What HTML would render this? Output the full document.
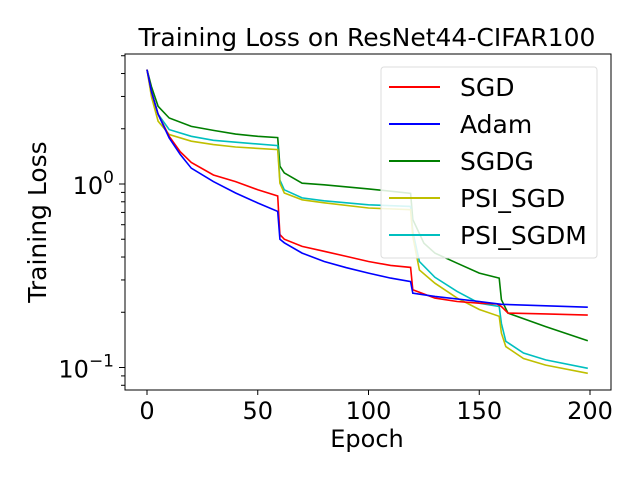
<!DOCTYPE html>
<html><head><meta charset="utf-8"><style>
body{margin:0;background:#fff;}
svg text{font-family:"DejaVu Sans","Liberation Sans",sans-serif;fill:#000;}
</style></head><body>
<svg id="chart" width="640" height="480" viewBox="0 0 640 480" xmlns="http://www.w3.org/2000/svg">
<rect x="0" y="0" width="640" height="480" fill="#fff"/>
<text x="367" y="46" font-size="25" text-anchor="middle">Training Loss on ResNet44-CIFAR100</text>
<g id="series"></g>
<rect x="125" y="54" width="486" height="336" fill="none" stroke="#000" stroke-width="1"/>
<g id="axes"></g>
<text x="367" y="447" font-size="24" text-anchor="middle">Epoch</text>
<text transform="translate(46,222) rotate(-90)" font-size="25" text-anchor="middle">Training Loss</text>
<g>
<rect x="381" y="67" width="216" height="191" rx="3" fill="#fff" fill-opacity="0.85" stroke="#ddd"/>
<g id="legend-items"></g>
</g>
</svg>
<script>
const names=["SGD","Adam","SGDG","PSI_SGD","PSI_SGDM"];
const colors=["#ff0000","#0000ff","#007f00","#bfbf00","#00bfbf"];
const sgdEpochs=[0,2,5,10,15,20,30,40,50,59,60,62,70,80,90,100,110,119,120,130,140,150,158,160,163,180,199];
const sgdVals=[4.2,3.2,2.4,1.82,1.5,1.31,1.12,1.03,0.93,0.86,0.53,0.5,0.457,0.43,0.403,0.378,0.36,0.351,0.265,0.239,0.229,0.224,0.222,0.215,0.198,0.196,0.193];
const adamEpochs=[0,2,5,10,15,20,30,40,50,59,60,62,70,80,90,100,110,119,120,130,150,160,199];
const adamVals=[4.2,3.2,2.4,1.78,1.45,1.22,1.03,0.893,0.788,0.709,0.5,0.478,0.42,0.378,0.35,0.327,0.307,0.294,0.254,0.244,0.229,0.221,0.213];
const sgdgEpochs=[0,2,5,10,20,30,40,50,59,60,62,70,80,100,119,120,125,130,140,150,159,160,163,180,199];
const sgdgVals=[4.2,3.4,2.65,2.29,2.06,1.96,1.87,1.82,1.79,1.25,1.15,1.01,0.99,0.94,0.89,0.64,0.476,0.42,0.37,0.327,0.307,0.234,0.198,0.167,0.14];
const psiSgdEpochs=[0,2,5,10,20,30,40,59,60,62,70,80,100,119,120,123,130,140,150,159,160,162,170,180,199];
const psiSgdVals=[4.2,3.0,2.2,1.86,1.71,1.64,1.59,1.54,1.01,0.893,0.82,0.79,0.74,0.724,0.518,0.34,0.288,0.239,0.207,0.19,0.154,0.13,0.112,0.103,0.093];
const psiSgdmEpochs=[0,2,5,10,20,30,40,59,60,62,70,80,100,119,120,123,130,140,150,159,160,162,170,180,199];
const psiSgdmVals=[4.2,3.1,2.4,1.98,1.82,1.73,1.69,1.62,1.05,0.93,0.84,0.81,0.77,0.755,0.55,0.378,0.31,0.26,0.224,0.215,0.174,0.139,0.12,0.11,0.099];
const xTicks=[0,50,100,150,200];
const NS="http://www.w3.org/2000/svg";
function xs(e){return 147+e*(590-147)/200;}
function ys(v){return 184-183.5*Math.log10(v);}
const epochSets=[sgdEpochs,adamEpochs,sgdgEpochs,psiSgdEpochs,psiSgdmEpochs];
const valSets=[sgdVals,adamVals,sgdgVals,psiSgdVals,psiSgdmVals];
const sg=document.getElementById('series');
const order=[2,4,3,0,1];
order.forEach(i=>{
  const p=document.createElementNS(NS,'polyline');
  
  
  p.setAttribute('points',epochSets[i].map((e,k)=>xs(e).toFixed(1)+','+ys(valSets[i][k]).toFixed(1)).join(' '));
  p.setAttribute('fill','none');p.setAttribute('stroke',colors[i]);p.setAttribute('stroke-width','1.6');
  sg.appendChild(p);
});
const ax=document.getElementById('axes');
function line(x1,y1,x2,y2){const l=document.createElementNS(NS,'line');l.setAttribute('x1',x1);l.setAttribute('y1',y1);l.setAttribute('x2',x2);l.setAttribute('y2',y2);l.setAttribute('stroke','#000');return l;}
xTicks.forEach(t=>{
  const l=line(xs(t),390,xs(t),395);
  
  
  ax.appendChild(l);
  const tx=document.createElementNS(NS,'text');
  
  
  tx.setAttribute('x',xs(t));tx.setAttribute('y',419);tx.setAttribute('font-size','24');tx.setAttribute('text-anchor','middle');
  tx.textContent=t;ax.appendChild(tx);
});
[[1,'0'],[0.1,'−1']].forEach(([v,e])=>{
  const l=line(119,ys(v),125,ys(v));
  
  
  ax.appendChild(l);
  const tx=document.createElementNS(NS,'text');
  
  
  tx.setAttribute('x',114);tx.setAttribute('y',ys(v)+10);tx.setAttribute('font-size','24');tx.setAttribute('text-anchor','end');
  tx.innerHTML='10<tspan font-size="17" dy="-11">'+e+'</tspan>';ax.appendChild(tx);
});
[0.08,0.09,0.2,0.3,0.4,0.5,0.6,0.7,0.8,0.9,2,3,4,5].forEach(v=>{
  const l=line(121,ys(v),125,ys(v));
  
  
  ax.appendChild(l);
});
const lg=document.getElementById('legend-items');
names.forEach((n,i)=>{
  const y=87+i*37;
  const g=document.createElementNS(NS,'g');
  
  
  const l=line(389,y,440,y);l.setAttribute('stroke',colors[i]);l.setAttribute('stroke-width','2');
  g.appendChild(l);
  const t=document.createElementNS(NS,'text');
  t.setAttribute('x',460);t.setAttribute('y',y+9);t.setAttribute('font-size','25');t.textContent=n;
  g.appendChild(t);lg.appendChild(g);
});
</script>
</body></html>
